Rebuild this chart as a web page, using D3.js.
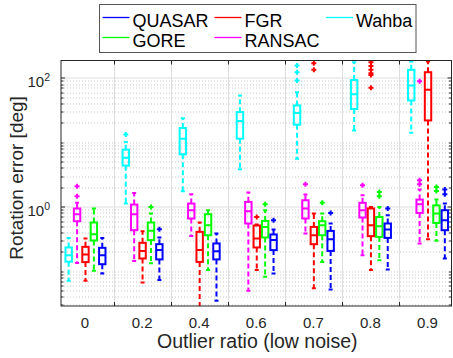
<!DOCTYPE html>
<html>
<head>
<meta charset="utf-8">
<script src="https://cdn.jsdelivr.net/npm/d3@7"></script>
<style>
  body { margin: 0; background: #fff; }
  text { font-family: "Liberation Sans", Arial, Helvetica, sans-serif; fill: #262626; }
</style>
</head>
<body>
<div id="chart"></div>
<script>
// ---- data -------------------------------------------------------------
const groups = ["0", "0.2", "0.4", "0.6", "0.7", "0.8", "0.9"];
// order of the boxes inside a group, left to right
const seriesNames = ["Wahba", "RANSAC", "FGR", "GORE", "QUASAR"];
const seriesColors = ["#00ffff", "#ff00ff", "#ff0000", "#00ff00", "#0000ff"];
const legendOrder = ["QUASAR", "GORE", "FGR", "RANSAC", "Wahba"];
const yTickLabels = [1, 100];

// [lower whisker, q1, median, q3, upper whisker] per outlier ratio
const wahbaBoxes = [
  [0.0708, 0.140, 0.177, 0.233, 0.328],
  [1.12, 4.35, 5.79, 7.7, 10.1],
  [1.74, 6.52, 11.4, 16.7, 23.8],
  [3.81, 11.4, 21.4, 29.5, 53.5],
  [5.59, 18.8, 28.5, 37.5, 60.2],
  [15.3, 33, 56, 93, 176],
  [14.1, 44.8, 76.5, 134, 180]
];
const wahbaOutliers = [[], [13.3], [], [], [91.5, 123, 156], [], []];

const ransacBoxes = [
  [0.134, 0.596, 0.766, 0.938, 1.15],
  [0.143, 0.432, 0.766, 1.08, 1.64],
  [0.352, 0.656, 0.883, 1.12, 1.56],
  [0.0495, 0.549, 0.852, 1.19, 1.66],
  [0.384, 0.656, 0.94, 1.26, 1.55],
  [0.177, 0.68, 0.883, 1.15, 1.51],
  [0.269, 0.801, 1.09, 1.29, 1.85]
];
const ransacOutliers = [[1.45, 2.08], [], [], [], [2.23], [2.15], [2.23, 2.58, 89]];

const fgrBoxes = [
  [0.0708, 0.138, 0.181, 0.238, 0.321],
  [0.0668, 0.157, 0.206, 0.275, 0.417],
  [0.025, 0.139, 0.212, 0.407, 0.569],
  [0.104, 0.233, 0.321, 0.511, 0.53],
  [0.054, 0.262, 0.361, 0.486, 0.785],
  [0.104, 0.349, 0.517, 0.94, 0.99],
  [0.313, 21.9, 65.6, 123, 180]
];
const fgrOutliers = [[], [], [], [0.695], [134, 169], [70.5, 111, 118, 134, 153, 176], []];

const goreBoxes = [
  [0.101, 0.299, 0.375, 0.569, 0.938],
  [0.132, 0.303, 0.422, 0.569, 0.785],
  [0.104, 0.361, 0.517, 0.765, 0.883],
  [0.0816, 0.333, 0.486, 0.603, 0.883],
  [0.139, 0.361, 0.517, 0.596, 0.785],
  [0.148, 0.34, 0.499, 0.695, 0.99],
  [0.295, 0.561, 0.785, 1.05, 1.29]
];
const goreOutliers = [[], [0.99], [], [1.09], [1.15], [1.45, 1.69], [1.76, 2.03]];

const quasarBoxes = [
  [0.092, 0.128, 0.177, 0.23, 0.328],
  [0.0725, 0.152, 0.212, 0.262, 0.333],
  [0.0346, 0.152, 0.204, 0.269, 0.384],
  [0.092, 0.212, 0.303, 0.371, 0.443],
  [0.052, 0.206, 0.313, 0.421, 0.549],
  [0.106, 0.328, 0.443, 0.549, 0.738],
  [0.157, 0.432, 0.618, 0.883, 1.12]
];
const quasarOutliers = [[], [0.448], [], [0.618], [0.801], [0.94], [1.56, 1.85]];

const boxesBySeries = [wahbaBoxes, ransacBoxes, fgrBoxes, goreBoxes, quasarBoxes];
const outliersBySeries = [wahbaOutliers, ransacOutliers, fgrOutliers, goreOutliers, quasarOutliers];

// ---- layout -----------------------------------------------------------
const width = 453, height = 358;
const margin = { top: 60.5, right: 1.5, bottom: 52, left: 61 };
const innerW = width - margin.left - margin.right;
const innerH = height - margin.top - margin.bottom;
const axisColor = "#262626";
const boxW = 6.4, capHalf = 2, plusHalf = 2.5;

const svg = d3.select("#chart").append("svg")
  .attr("width", width)
  .attr("height", height);

svg.append("rect").attr("width", width).attr("height", height).attr("fill", "#fff");

const g = svg.append("g")
  .attr("transform", "translate(" + margin.left + "," + margin.top + ")");

const x = d3.scalePoint()
  .domain(groups)
  .range([0, innerW])
  .padding(0.42);

const xs = d3.scalePoint()
  .domain(seriesNames)
  .range([-16.8, 16.8]);

const y = d3.scaleLog()
  .domain([0.0287, 187])
  .range([innerH, 0]);

const step = x.step();
const boundaries = groups.slice(1).map(d => x(d) - step / 2);
const allTicks = y.ticks();
const minorTicks = allTicks.filter(t => !yTickLabels.includes(t));

// ---- grid -------------------------------------------------------------
const grid = g.append("g").attr("class", "grid");

grid.selectAll(".minor")
  .data(minorTicks)
  .enter().append("line")
  .attr("x1", 0).attr("x2", innerW)
  .attr("y1", d => Math.round(y(d)) + 0.5).attr("y2", d => Math.round(y(d)) + 0.5)
  .attr("stroke", "#c9c9c9")
  .attr("stroke-width", 1)
  .attr("stroke-dasharray", "1,2");

grid.selectAll(".major")
  .data(yTickLabels)
  .enter().append("line")
  .attr("x1", 0).attr("x2", innerW)
  .attr("y1", d => Math.round(y(d)) + 0.5).attr("y2", d => Math.round(y(d)) + 0.5)
  .attr("stroke", "#dedede");

grid.selectAll(".vgrid")
  .data(boundaries)
  .enter().append("line")
  .attr("x1", d => Math.round(d) + 0.5).attr("x2", d => Math.round(d) + 0.5)
  .attr("y1", 0).attr("y2", innerH)
  .attr("stroke", "#dedede");

// ---- boxes ------------------------------------------------------------
g.append("clipPath").attr("id", "plotclip")
  .append("rect").attr("width", innerW).attr("height", innerH);

const plot = g.append("g").attr("clip-path", "url(#plotclip)");

seriesNames.forEach((name, si) => {
  const color = seriesColors[si];
  const rows = boxesBySeries[si].map((b, gi) => ({
    cx: x(groups[gi]) + xs(name) + 0.5,
    lo: b[0], q1: b[1], med: b[2], q3: b[3], hi: b[4],
    out: outliersBySeries[si][gi]
  }));

  const sg = plot.append("g").attr("class", "series-" + name)
    .attr("stroke", color).attr("fill", "none").attr("stroke-width", 2);

  // whiskers
  sg.selectAll(".wup").data(rows).enter().append("line")
    .attr("x1", d => d.cx).attr("x2", d => d.cx)
    .attr("y1", d => y(d.q3)).attr("y2", d => y(d.hi))
    .attr("stroke-dasharray", "5,3");
  sg.selectAll(".wlo").data(rows).enter().append("line")
    .attr("x1", d => d.cx).attr("x2", d => d.cx)
    .attr("y1", d => y(d.q1)).attr("y2", d => y(d.lo))
    .attr("stroke-dasharray", "5,3");

  // caps
  sg.selectAll(".cap").data(rows.flatMap(d => [{ cx: d.cx, v: d.hi }, { cx: d.cx, v: d.lo }]))
    .enter().append("line")
    .attr("x1", d => d.cx - capHalf).attr("x2", d => d.cx + capHalf)
    .attr("y1", d => y(d.v)).attr("y2", d => y(d.v));

  // box
  sg.selectAll(".box").data(rows).enter().append("rect")
    .attr("x", d => d.cx - boxW / 2)
    .attr("width", boxW)
    .attr("y", d => y(d.q3))
    .attr("height", d => y(d.q1) - y(d.q3));

  // median
  sg.selectAll(".med").data(rows).enter().append("line")
    .attr("x1", d => d.cx - boxW / 2).attr("x2", d => d.cx + boxW / 2)
    .attr("y1", d => y(d.med)).attr("y2", d => y(d.med));

  // outliers
  sg.selectAll(".out").data(rows.flatMap(d => d.out.map(v => ({ cx: d.cx, v }))))
    .enter().append("path")
    .attr("d", d => {
      const px = d.cx, py = y(d.v);
      return "M" + (px - plusHalf) + "," + py + "H" + (px + plusHalf) +
        "M" + px + "," + (py - plusHalf) + "V" + (py + plusHalf);
    });
});

// ---- axes frame and ticks ---------------------------------------------
const frame = g.append("g").attr("stroke", axisColor).attr("fill", "none");

frame.append("rect")
  .attr("x", 0).attr("y", 0)
  .attr("width", innerW).attr("height", innerH)
  .attr("stroke-width", 1);

// y ticks (inward), both sides
allTicks.forEach(t => {
  const len = yTickLabels.includes(t) ? 4 : 2.5;
  const yy = Math.round(y(t)) + 0.5;
  frame.append("line").attr("x1", 0).attr("x2", len).attr("y1", yy).attr("y2", yy);
  frame.append("line").attr("x1", innerW).attr("x2", innerW - len).attr("y1", yy).attr("y2", yy);
});

// x ticks at group boundaries, top and bottom
boundaries.forEach(b => {
  const xx = Math.round(b) + 0.5;
  frame.append("line").attr("x1", xx).attr("x2", xx).attr("y1", innerH).attr("y2", innerH - 4);
  frame.append("line").attr("x1", xx).attr("x2", xx).attr("y1", 0).attr("y2", 4);
});

// x tick labels
g.selectAll(".xlab")
  .data(groups)
  .enter().append("text")
  .attr("x", d => x(d))
  .attr("y", innerH + 22)
  .attr("text-anchor", "middle")
  .style("font-size", "15px")
  .text(d => d);

// y tick labels: 10^k
const ylab = g.selectAll(".ylab")
  .data(yTickLabels)
  .enter().append("text")
  .attr("x", -11)
  .attr("y", d => y(d) + 9)
  .attr("text-anchor", "end")
  .style("font-size", "15px");
ylab.append("tspan").text("10");
ylab.append("tspan")
  .attr("dy", -6)
  .style("font-size", "10.5px")
  .text(d => Math.round(Math.log10(d)));

// axis titles
svg.append("text")
  .attr("x", margin.left + innerW / 2 + 1)
  .attr("y", 348)
  .attr("text-anchor", "middle")
  .style("font-size", "19.5px")
  .text("Outlier ratio (low noise)");

svg.append("text")
  .attr("transform", "translate(23," + 178 + ") rotate(-90)")
  .attr("text-anchor", "middle")
  .style("font-size", "19px")
  .text("Rotation error [deg]");

// ---- legend -----------------------------------------------------------
const legend = svg.append("g").attr("class", "legend");
legend.append("rect")
  .attr("x", 99.5).attr("y", 4.5)
  .attr("width", 316.5).attr("height", 48)
  .attr("fill", "#fff")
  .attr("stroke", "#555")
  .attr("stroke-width", 1);

const colX = [102.5, 214.5, 326];
const rowY = [26.5, 46.5];
legendOrder.forEach((name, i) => {
  const col = Math.floor(i / 2), row = i % 2;
  const lx = colX[col], ly = rowY[row];
  legend.append("line")
    .attr("x1", lx).attr("x2", lx + 27)
    .attr("y1", ly - 9).attr("y2", ly - 9)
    .attr("stroke", seriesColors[seriesNames.indexOf(name)])
    .attr("stroke-width", 1.3);
  legend.append("text")
    .attr("x", lx + 30)
    .attr("y", ly)
    .style("font-size", "18px")
    .style("fill", "#000")
    .text(name);
});
</script>
</body>
</html>
